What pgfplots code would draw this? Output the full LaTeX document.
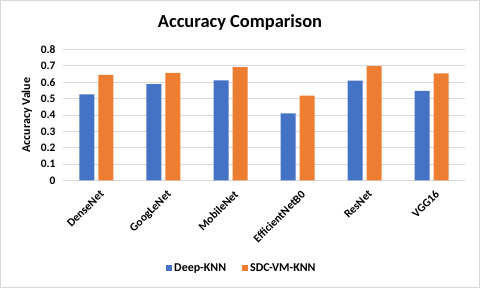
\documentclass[border=0pt]{standalone}
\usepackage{fontspec}
\setmainfont{Carlito}
\usepackage{pgfplots}
\pgfplotsset{compat=1.18}
\definecolor{cblue}{HTML}{4472C4}
\definecolor{corange}{HTML}{ED7D31}
\definecolor{gridc}{HTML}{D9D9D9}
\begin{document}
\begin{tikzpicture}[x=1bp,y=1bp]
\draw[draw=gridc, line width=0.75bp] (0.4,0.4) rectangle (479.6,287.6);
\node[font=\fontsize{18.5}{20}\selectfont\bfseries] at (240,265) {Accuracy Comparison};
\begin{axis}[
  at={(63bp,107.5bp)}, anchor=south west,
  scale only axis, width=402bp, height=131bp,
  ymin=0, ymax=0.8, xmin=-0.5, xmax=5.5,
  ytick={0,0.1,0.2,0.3,0.4,0.5,0.6,0.7,0.8},
  yticklabels={0,0.1,0.2,0.3,0.4,0.5,0.6,0.7,0.8},
  xtick={0,1,2,3,4,5},
  xticklabels={DenseNet,GoogLeNet,MobileNet,EfficientNetB0,ResNet,VGG16},
  axis line style={draw=none},
  major tick length=0pt,
  ymajorgrids, grid style={draw=gridc, line width=0.75bp},
  ybar=4bp, bar width=15bp,
  yticklabel style={font=\fontsize{11.5}{13}\selectfont\bfseries, anchor=east, xshift=-4bp},
  xticklabel style={font=\fontsize{11.5}{13}\selectfont\bfseries, rotate=45, anchor=north east, yshift=-5bp, xshift=-1bp},
  /pgf/number format/assume math mode=true,
  ylabel={Accuracy Value},
  ylabel style={font=\fontsize{12}{14}\selectfont\bfseries, at={(axis description cs:-0.09,0.5)}, anchor=center},
  legend style={at={(0.445,-0.668)}, anchor=center, draw=none, fill=none,
    font=\fontsize{12}{14}\selectfont\bfseries, legend columns=2,
    /tikz/every even column/.append style={column sep=14bp}},
  legend image code/.code={\fill[#1] (0bp,-3bp) rectangle (6bp,3bp);},
]
\addplot[fill=cblue, draw=none] coordinates {(0,0.526) (1,0.588) (2,0.611) (3,0.41) (4,0.610) (5,0.547)};
\addplot[fill=corange, draw=none] coordinates {(0,0.645) (1,0.657) (2,0.692) (3,0.519) (4,0.698) (5,0.654)};
\legend{Deep-KNN, SDC-VM-KNN}
\end{axis}
\end{tikzpicture}
\end{document}
